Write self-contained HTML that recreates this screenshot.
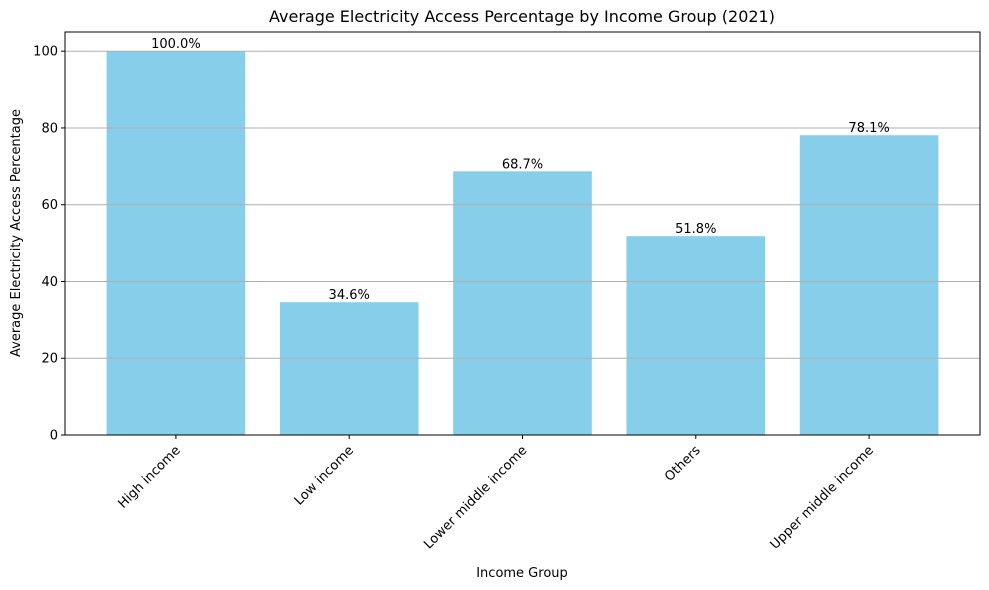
<!DOCTYPE html>
<html><head><meta charset="utf-8"><style>
body{margin:0;background:#fff;}
svg{display:block;font-family:"DejaVu Sans","Liberation Sans",sans-serif;}
</style></head><body>
<svg id="chart" width="989" height="590" xmlns="http://www.w3.org/2000/svg">
<rect x="0" y="0" width="989" height="590" fill="#fff"/>
<text x="522" y="22" text-anchor="middle" font-size="16">Average Electricity Access Percentage by Income Group (2021)</text>
<g id="bars"></g>
<g id="grid"></g>
<g id="labels"></g>
<g id="yaxis"></g>
<g id="xaxis"></g>
<rect x="65" y="32" width="915" height="403" fill="none" stroke="#000" stroke-width="1"/>
<text x="522" y="577" text-anchor="middle" font-size="13">Income Group</text>
<text transform="translate(20,233) rotate(-90)" text-anchor="middle" font-size="13">Average Electricity Access Percentage</text>
</svg>
<script>
const categories = ["High income","Low income","Lower middle income","Others","Upper middle income"];
const values = [100.0, 34.6, 68.7, 51.8, 78.1];
const yTicks = [0,20,40,60,80,100];

const NS="http://www.w3.org/2000/svg";
const L=65,R=980,T=32,B=435;
const xMin=-0.64,xMax=categories.length-1+0.64,yMin=0,yMax=105;
function xs(v){return L+(v-xMin)/(xMax-xMin)*(R-L);}
function ys(v){return B-(v-yMin)/(yMax-yMin)*(B-T);}
function mk(tag,attrs,parent){const e=document.createElementNS(NS,tag);for(const k in attrs)e.setAttribute(k,attrs[k]);parent.appendChild(e);return e;}
const grid=document.getElementById('grid'),bars=document.getElementById('bars'),labels=document.getElementById('labels'),ya=document.getElementById('yaxis'),xa=document.getElementById('xaxis');
const unit=(R-L)/(xMax-xMin);
yTicks.forEach(t=>{
  const y=ys(t);
  const g=mk('line',{x1:L,x2:R,y1:y,y2:y,stroke:'#b0b0b0','stroke-width':1},grid);
  
  
  const tk=mk('line',{x1:L-4,x2:L,y1:y,y2:y,stroke:'#000'},ya);
  
  
  const tx=mk('text',{x:L-7,y:y+4.5,'text-anchor':'end','font-size':13},ya);
  tx.textContent=t;
  
  
});
categories.forEach((c,i)=>{
  const cx=xs(i),w=0.8*unit,y=ys(values[i]);
  const r=mk('rect',{x:cx-w/2,y:y,width:w,height:B-y,fill:'#87ceeb'},bars);
  
  
  const v=mk('text',{x:cx,y:y-3,'text-anchor':'middle','font-size':13},labels);
  v.textContent=values[i].toFixed(1)+'%';
  
  
  const tk=mk('line',{x1:cx,x2:cx,y1:B,y2:B+4,stroke:'#000'},xa);
  
  
  const tx=mk('text',{transform:`translate(${cx+5},${B+16}) rotate(-45)`,'text-anchor':'end','font-size':13},xa);
  tx.textContent=c;
  
  
});
</script>
</body></html>
